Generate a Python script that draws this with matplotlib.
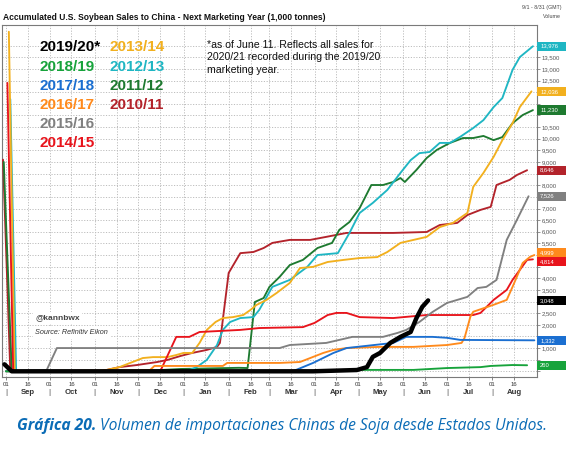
import matplotlib
matplotlib.use("Agg")
import matplotlib.pyplot as plt
from matplotlib.patches import Rectangle
from matplotlib.transforms import blended_transform_factory

# x values are days since Sep 1, y values are accumulated sales (1,000 tonnes)
days_1920 = [-1, 4, 211, 241, 248, 252, 257, 264, 271, 278, 282, 286, 290]
sales_1920 = [300, 0, 0, 55, 180, 620, 790, 1220, 1480, 1690, 2290, 2770, 3048]

days_1819 = [0, 200, 241, 280, 303, 326, 333, 348, 358]
sales_1819 = [0, 0, 60, 60, 140, 180, 230, 270, 260]

days_1718 = [0, 197, 211, 225, 234, 266, 275, 293, 303, 312, 363]
sales_1718 = [0, 0, 360, 790, 1000, 1220, 1480, 1480, 1440, 1350, 1332]

days_1617 = [0, 99, 102, 149, 152, 188, 202, 209, 218, 225, 234, 257, 280, 303, 313,
             315, 319, 321, 335, 344, 348, 355, 360, 363]
sales_1617 = [0, 55, 230, 230, 360, 360, 400, 570, 790, 920, 1000, 1050, 1050, 1130, 1220,
              1430, 2340, 2560, 2860, 3070, 3630, 4660, 4920, 4999]

days_1516 = [0, 28, 35, 188, 195, 220, 238, 259, 269, 275, 284, 293, 303, 317, 324,
             330, 337, 344, 351, 359]
sales_1516 = [0, 55, 1000, 1000, 1130, 1220, 1480, 1480, 1650, 1780, 2120, 2550, 2940, 3200, 3580,
              3630, 3930, 5650, 6510, 7526]

days_1415 = [1, 5, 106, 117, 126, 133, 161, 174, 204, 212, 221, 227, 234, 243, 266,
             289, 321, 326, 335, 344, 348, 358, 362]
sales_1415 = [12400, 0, 0, 1480, 1480, 1690, 1780, 1860, 1900, 2080, 2420, 2510, 2510, 2330, 2290,
              2420, 2420, 2510, 3070, 3500, 3930, 4790, 4814]

days_1314 = [2, 6, 65, 78, 87, 94, 101, 111, 117, 122, 128, 133, 138, 144, 149, 156,
             163, 168, 172, 179, 186, 195, 202, 211, 221, 232, 243, 255, 262, 271, 280,
             289, 298, 307, 317, 321, 328, 335, 341, 348, 353, 361]
sales_1314 = [14600, 0, 0, 180, 400, 570, 610, 610, 700, 790, 790, 1220, 1780, 2120, 2290, 2330,
              2420, 2640, 2850, 3070, 3370, 3800, 4440, 4490, 4700, 4790, 4870, 4910, 5130, 5520, 5650,
              5780, 6200, 6380, 6810, 7930, 8530, 9220, 9940, 10670, 11360, 12036]

days_1213 = [3, 7, 124, 131, 138, 145, 149, 154, 161, 170, 174, 183, 195, 207, 214,
             228, 236, 243, 252, 262, 271, 278, 284, 291, 298, 305, 312, 321, 328, 335,
             341, 348, 353, 362]
sales_1213 = [11700, 0, 0, 180, 490, 1130, 1780, 2120, 2290, 2330, 2640, 3630, 3930, 4490, 5000,
              5080, 5950, 6810, 7240, 7800, 8530, 9080, 9380, 9430, 9820, 9820, 10080, 10460, 10800, 11360,
              11750, 12960, 13510, 13976]

days_1112 = [-1.5, 4, 90, 120, 160, 166, 171, 177, 181, 188, 195, 204, 214, 224, 229,
             236, 243, 251, 259, 266, 271, 274, 282, 289, 296, 305, 314, 321, 328, 335,
             341, 348, 355, 362]
sales_1112 = [9000, 0, 0, 100, 150, 140, 2980, 3150, 3630, 4060, 4570, 4790, 5300, 5520, 6080,
              6420, 7020, 8010, 8010, 8140, 8310, 8140, 8660, 9170, 9520, 9820, 10030, 10030, 10120, 9940,
              10070, 10670, 11020, 11230]

days_1011 = [-2, 3, 65, 78, 90, 104, 111, 120, 128, 138, 145, 147, 153, 161, 170, 177,
             183, 195, 209, 220, 234, 243, 266, 289, 298, 310, 317, 326, 333, 337, 346,
             351, 358]
sales_1011 = [9100, 0, 0, 180, 270, 400, 490, 660, 790, 920, 1050, 1220, 4230, 5080, 5130, 5300,
              5520, 5650, 5650, 5780, 5950, 5950, 5950, 5990, 6290, 6380, 6720, 6940, 7070, 8010, 8230,
              8440, 8646]

series = [
    ("2010/11", "#b3232b", days_1011, sales_1011),
    ("2011/12", "#1e7a30", days_1112, sales_1112),
    ("2012/13", "#1fb6c3", days_1213, sales_1213),
    ("2013/14", "#f2b01e", days_1314, sales_1314),
    ("2014/15", "#e8141c", days_1415, sales_1415),
    ("2015/16", "#808080", days_1516, sales_1516),
    ("2016/17", "#ff8a1c", days_1617, sales_1617),
    ("2017/18", "#1b6fd1", days_1718, sales_1718),
    ("2018/19", "#17a33b", days_1819, sales_1819),
    ("2019/20*", "#000000", days_1920, sales_1920),
]

legend_col1 = ["2019/20*", "2018/19", "2017/18", "2016/17", "2015/16", "2014/15"]
legend_col2 = ["2013/14", "2012/13", "2011/12", "2010/11"]

month_names = ["Sep", "Oct", "Nov", "Dec", "Jan", "Feb", "Mar", "Apr", "May", "Jun", "Jul", "Aug"]
month_starts = [0, 30, 61, 91, 122, 153, 181, 212, 242, 273, 303, 334]

W, H = 566, 449
fig = plt.figure(figsize=(W / 100, H / 100), dpi=100)
plt.rcParams['font.family'] = ['Liberation Sans', 'DejaVu Sans']

# plot box in pixels: left 2, right 537, top 25, bottom 377
ax = fig.add_axes([2 / W, 1 - 377 / H, 535 / W, 352 / H])
ax.set_xlim(-2.7, 364.8)
ax.set_ylim(-245, 14890)

colors = {}
for name, col, x, y in series:
    colors[name] = col
    lw = 3.2 if name.startswith("2019") else 1.35
    ax.plot(x, y, color=col, lw=lw, solid_joinstyle='round', solid_capstyle='round',
            zorder=4 if name.startswith("2019") else 3)

# value boxes on the right axis (pushed apart when they would overlap)
box_h = 400
ends = sorted([(y[-1], name) for name, col, x, y in series], reverse=True)
pos = {name: v for v, name in ends}
for i in range(len(ends) - 1):
    a, b = ends[i][1], ends[i + 1][1]
    gap = pos[a] - pos[b]
    if gap < box_h:
        shift = (box_h - gap) / 2
        pos[a] += shift
        pos[b] -= shift

# ticks and grid
xt = []
xl = []
for m in month_starts:
    xt += [m, m + 15]
    xl += ["01", "16"]
ax.set_xticks(xt)
ax.set_xticklabels(xl, fontsize=4.3, color="#333333")
ax.tick_params(axis='x', length=2, width=0.5, pad=1.5, colors="#555555", labelcolor="#333333")
yt = list(range(0, 14001, 500))
ax.set_yticks(yt)
ylabels = []
for v in yt:
    hidden = any(abs(v - p) < box_h / 2 + 130 for p in pos.values())
    ylabels.append("" if hidden else f"{v:,}")
ax.set_yticklabels(ylabels, fontsize=4.3, color="#555555")
ax.yaxis.tick_right()
ax.tick_params(axis='y', length=2, width=0.5, pad=1.2, colors="#666666", labelcolor="#555555")
ax.grid(True, color="#bdbdbd", linestyle=(0, (1.2, 1.6)), lw=0.7, zorder=0)
ax.set_axisbelow(True)
for s in ax.spines.values():
    s.set_color("#7a7a7a")
    s.set_linewidth(0.8)

# month names below ticks
trans = blended_transform_factory(ax.transData, ax.transAxes)
for m, nm in zip(month_starts, month_names):
    ax.text(m + 15, -0.043, nm, transform=trans, ha='center', va='center',
            fontsize=5.6, fontweight='bold', color="#333333")
    ax.text(m, -0.043, "|", transform=trans, ha='center', va='center',
            fontsize=6, color="#444444")

ytrans = ax.get_yaxis_transform()
for v, name in ends:
    yc = pos[name]
    ax.add_patch(Rectangle((1.0, yc - box_h / 2), 30 / 535, box_h, transform=ytrans,
                           facecolor=colors[name], edgecolor='none', clip_on=False, zorder=6))
    ax.text(1.006, yc, f"{v:,}", transform=ytrans, ha='left', va='center',
            fontsize=4.2, color="white", zorder=7, clip_on=False)

# legend text block
rows = [47, 67, 86, 105, 124, 143]
for i, nm in enumerate(legend_col1):
    fig.text(40 / W, 1 - rows[i] / H, nm, fontsize=11, fontweight='bold',
             color=colors[nm], va='center', ha='left')
for i, nm in enumerate(legend_col2):
    fig.text(110 / W, 1 - rows[i] / H, nm, fontsize=11, fontweight='bold',
             color=colors[nm], va='center', ha='left')

fig.text(207 / W, 1 - 40 / H,
         "*as of June 11. Reflects all sales for\n2020/21 recorded during the 2019/20\nmarketing year.",
         fontsize=7.6, color="#111111", va='top', ha='left', linespacing=1.3)

ax.text(33 / 535, (377 - 318) / 352, "@kannbwx", transform=ax.transAxes, fontsize=6,
        fontweight='bold', color="#444444", va='center', ha='left',
        bbox=dict(facecolor='white', edgecolor='none', pad=1.5), zorder=5)
ax.text(33 / 535, (377 - 333) / 352, "Source: Refinitiv Eikon", transform=ax.transAxes,
        fontsize=5.2, style='italic', color="#333333", va='center', ha='left',
        bbox=dict(facecolor='white', edgecolor='none', pad=1.5), zorder=5)

# header
fig.text(3 / W, 1 - 17 / H,
         "Accumulated U.S. Soybean Sales to China - Next Marketing Year (1,000 tonnes)",
         fontsize=6.15, fontweight='bold', color="#111111", va='center', ha='left')
fig.text(561 / W, 1 - 7 / H, "9/1 - 8/31 (GMT)", fontsize=3.8, color="#444444",
         va='center', ha='right')
fig.text(561 / W, 1 - 16 / H, "Volume", fontsize=3.8, color="#444444",
         va='center', ha='right')

# caption
cap_col = "#0b6cb6"
t1 = fig.text(17 / W, 1 - 426 / H, "Gráfica 20.", fontsize=11.25, fontweight='bold',
              style='italic', color=cap_col, va='center', ha='left', family='Open Sans')
fig.canvas.draw()
bb = t1.get_window_extent()
fig.text(bb.x1 / W + 4 / W, 1 - 426 / H,
         "Volumen de importaciones Chinas de Soja desde Estados Unidos.",
         fontsize=11.25, style='italic', color=cap_col, va='center', ha='left', family='Open Sans')

fig.savefig("out.png", dpi=100)
